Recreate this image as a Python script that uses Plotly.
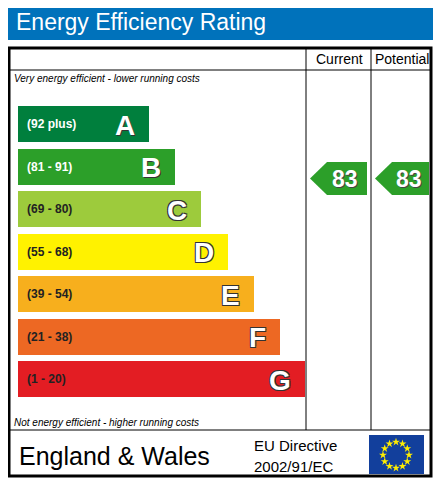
import numpy as np
import plotly.graph_objects as go

bands = ["A", "B", "C", "D", "E", "F", "G"]
ranges = ["(92 plus)", "(81 - 91)", "(69 - 80)", "(55 - 68)", "(39 - 54)", "(21 - 38)", "(1 - 20)"]
colors = ["#007f3d", "#2c9f29", "#9dcb3c", "#fff200", "#f7af1d", "#ed6823", "#e31d23"]
bar_ends = [149, 175, 201, 228, 254, 280, 305]
current = 83
potential = 83
thresholds = [92, 81, 69, 55, 39, 21, 1]

W, H = 441, 486
PAD = 8  # page body margin
x0 = 18
row_top, pitch, bar_h = 124, 42.5, 36
ys = [row_top + pitch * i for i in range(len(bands))]
RIGHT, BOTTOM = W - PAD - 2, H - PAD - 2

fig = go.Figure()
fig.add_trace(go.Bar(
    y=ys, x=[e - x0 for e in bar_ends], base=x0, orientation="h",
    width=bar_h, marker=dict(color=colors, line=dict(width=0)),
    hoverinfo="skip", showlegend=False,
))

def band_of(v):
    for i, t in enumerate(thresholds):
        if v >= t:
            return i
    return len(thresholds) - 1

def arrow(left, right, yc, val):
    h = 33
    tip = 17
    xs = [left, left + tip, right, right, left + tip, left]
    yy = [yc, yc - h / 2, yc - h / 2, yc + h / 2, yc + h / 2, yc]
    fig.add_trace(go.Scatter(x=xs, y=yy, fill="toself", mode="lines",
                             fillcolor=colors[band_of(val)], line=dict(width=0),
                             hoverinfo="skip", showlegend=False))
    fig.add_annotation(x=(left + tip + right) / 2 - 2, y=yc, text="<b>%d</b>" % val,
                       showarrow=False, font=dict(size=23, color="white", family="Arial",
                                                  shadow="1px 1px 0 #444"))

arrow(310, 367, ys[band_of(current)] + 12, current)
arrow(375, 429, ys[band_of(potential)] + 12, potential)

outline = "1px 1px 0 #333, -1px -1px 0 #333, 1px -1px 0 #333, -1px 1px 0 #333"
for i, b in enumerate(bands):
    dark = i >= 2
    fig.add_annotation(x=25, y=ys[i], text="<b>%s</b>" % ranges[i], xanchor="left", showarrow=False,
                       font=dict(size=12, color="#222" if dark else "white", family="Arial"))
    fig.add_annotation(x=bar_ends[i] - 12, y=ys[i] + 1, text="<b>%s</b>" % b, xanchor="right",
                       showarrow=False,
                       font=dict(size=28, color="white", family="Arial",
                                 shadow=outline if dark else "1px 1px 0 #333"))

shapes = [
    dict(type="rect", x0=6, x1=RIGHT + 2, y0=4, y1=40, fillcolor="#0072bb", line=dict(width=0)),
    dict(type="rect", x0=9, x1=RIGHT, y0=48, y1=BOTTOM, line=dict(color="black", width=3)),
    dict(type="line", x0=306, x1=306, y0=48, y1=430, line=dict(color="black", width=1)),
    dict(type="line", x0=371, x1=371, y0=48, y1=430, line=dict(color="black", width=1)),
    dict(type="line", x0=8, x1=RIGHT, y0=70, y1=70, line=dict(color="black", width=1)),
    dict(type="line", x0=8, x1=RIGHT, y0=430, y1=430, line=dict(color="black", width=1)),
    dict(type="rect", x0=369, x1=424, y0=435, y1=474, fillcolor="#123f9c",
         line=dict(width=0), layer="below"),
]
fig.update_layout(shapes=shapes)

ang = np.arange(12) * np.pi / 6
fig.add_trace(go.Scatter(x=396 + 13 * np.cos(ang), y=455 + 13 * np.sin(ang), mode="markers",
                         marker=dict(symbol="star", size=6, color="#ffed00", line=dict(width=0)),
                         hoverinfo="skip", showlegend=False))

texts = [
    dict(x=14, y=22, text="Energy Efficiency Rating", size=23, color="white", anchor="left"),
    dict(x=339, y=59, text="Current", size=14, color="black", anchor="center"),
    dict(x=402, y=59, text="Potential", size=14, color="black", anchor="center"),
    dict(x=12, y=78, text="<i>Very energy efficient - lower running costs</i>", size=10, color="black", anchor="left"),
    dict(x=12, y=422, text="<i>Not energy efficient - higher running costs</i>", size=10, color="black", anchor="left"),
    dict(x=17, y=456, text="England & Wales", size=25, color="black", anchor="left"),
    dict(x=252, y=445, text="EU Directive", size=15, color="black", anchor="left"),
    dict(x=252, y=466, text="2002/91/EC", size=15, color="black", anchor="left"),
]
for t in texts:
    fig.add_annotation(x=t["x"], y=t["y"], text=t["text"], xanchor=t["anchor"], showarrow=False,
                       font=dict(size=t["size"], color=t["color"], family="Arial"))

fig.update_layout(
    width=W - 2 * PAD, height=H - 2 * PAD, margin=dict(l=0, r=0, t=0, b=0),
    plot_bgcolor="white", paper_bgcolor="white",
    xaxis=dict(range=[PAD, W - PAD], visible=False, fixedrange=True),
    yaxis=dict(range=[H - PAD, PAD], visible=False, fixedrange=True),
    bargap=0,
)
fig.write_html("out.html", config={"displayModeBar": False})
